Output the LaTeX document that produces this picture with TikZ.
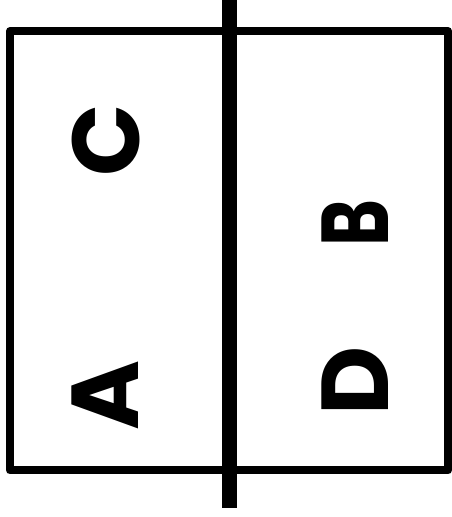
\documentclass[tikz,border=0pt]{standalone}
\usepackage{fontspec}
\setmainfont{Poppins}
\usetikzlibrary{positioning}
\begin{document}
\begin{tikzpicture}[x=1pt,y=1pt,
  lbl/.style={rotate=90,inner sep=0pt,font=\fontsize{95}{95}\selectfont\bfseries},
  frame/.style={draw,line width=8pt,line join=round}]
\useasboundingbox (0,0) rectangle (451,517);
\draw[frame] (10,46.5) rectangle (448,486);
\coordinate (top) at (229.5,517);
\coordinate (bot) at (229.5,9);
\draw[line width=15pt] (top) -- (bot);
\node[lbl] (a) at (105.5,121.5) {A};
\node[lbl] (c) at (106,376.5) {C};
\node[lbl,xscale=0.75] (b) at (355,294) {B};
\node[lbl] (d) at (355,136.5) {D};
\end{tikzpicture}
\end{document}
